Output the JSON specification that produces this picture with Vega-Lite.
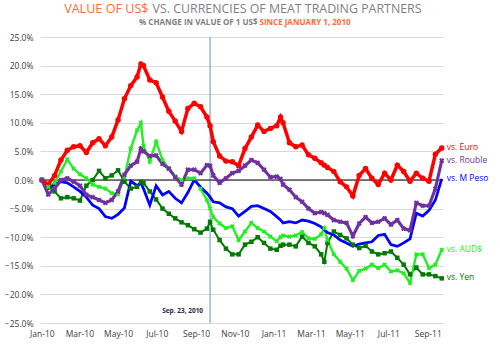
{
  "$schema": "https://vega.github.io/schema/vega-lite/v6.json",
  "width": 403,
  "height": 286,
  "autosize": "none",
  "padding": {"left": 40, "top": 37, "right": 57, "bottom": 30},
  "background": "white",
  "config": {"view": {"stroke": null}, "font": "Open Sans"},
  "datasets": {
    "fx": [
      {"d":"2010-01-01","Euro":0,"Rouble":0,"Peso":0,"AUD":0,"Yen":0},
      {"d":"2010-01-11","Euro":-0.8,"Rouble":-2.5,"Peso":-1.5,"AUD":-1.2,"Yen":-1.2},
      {"d":"2010-01-21","Euro":0.8,"Rouble":-1.5,"Peso":-0.8,"AUD":-0.5,"Yen":-2.0},
      {"d":"2010-01-31","Euro":3.5,"Rouble":0.0,"Peso":-0.3,"AUD":1.5,"Yen":-3.2},
      {"d":"2010-02-10","Euro":5.2,"Rouble":0.3,"Peso":-0.5,"AUD":3.6,"Yen":-3.0},
      {"d":"2010-02-20","Euro":5.8,"Rouble":-0.3,"Peso":-1.2,"AUD":2.0,"Yen":-3.2},
      {"d":"2010-03-02","Euro":6.0,"Rouble":-1.0,"Peso":-2.0,"AUD":1.0,"Yen":-3.6},
      {"d":"2010-03-12","Euro":4.8,"Rouble":-2.6,"Peso":-3.0,"AUD":0.3,"Yen":-1.0},
      {"d":"2010-03-22","Euro":6.5,"Rouble":-3.0,"Peso":-4.4,"AUD":-0.8,"Yen":0.0},
      {"d":"2010-04-01","Euro":7.2,"Rouble":-3.5,"Peso":-5.0,"AUD":-1.2,"Yen":1.6},
      {"d":"2010-04-11","Euro":6.0,"Rouble":-4.0,"Peso":-6.4,"AUD":-1.5,"Yen":0.3},
      {"d":"2010-04-21","Euro":7.5,"Rouble":-3.5,"Peso":-6.7,"AUD":-2.3,"Yen":0.8},
      {"d":"2010-05-01","Euro":10.5,"Rouble":-2.0,"Peso":-6.0,"AUD":-2.5,"Yen":1.7},
      {"d":"2010-05-11","Euro":14.2,"Rouble":0.9,"Peso":-4.9,"AUD":0.5,"Yen":-0.3},
      {"d":"2010-05-21","Euro":16.5,"Rouble":2.5,"Peso":-0.2,"AUD":5.5,"Yen":-1.5},
      {"d":"2010-05-31","Euro":18.0,"Rouble":3.2,"Peso":-1.0,"AUD":8.7,"Yen":-1.2},
      {"d":"2010-06-06","Euro":20.3,"Rouble":5.5,"Peso":-0.5,"AUD":10.0,"Yen":-0.3},
      {"d":"2010-06-10","Euro":20.0,"Rouble":5.0,"Peso":-1.5,"AUD":6.0,"Yen":-0.5},
      {"d":"2010-06-20","Euro":17.5,"Rouble":4.2,"Peso":-4.4,"AUD":3.2,"Yen":-2.0},
      {"d":"2010-06-30","Euro":17.0,"Rouble":4.3,"Peso":-1.0,"AUD":6.7,"Yen":-3.4},
      {"d":"2010-07-10","Euro":14.5,"Rouble":2.8,"Peso":-2.6,"AUD":3.5,"Yen":-5.0},
      {"d":"2010-07-20","Euro":12.0,"Rouble":2.0,"Peso":-2.0,"AUD":2.0,"Yen":-5.9},
      {"d":"2010-07-30","Euro":10.3,"Rouble":0.5,"Peso":-3.2,"AUD":0.6,"Yen":-6.7},
      {"d":"2010-08-09","Euro":8.5,"Rouble":-0.8,"Peso":-4.0,"AUD":0.0,"Yen":-7.4},
      {"d":"2010-08-19","Euro":12.5,"Rouble":1.8,"Peso":-2.2,"AUD":0.3,"Yen":-7.9},
      {"d":"2010-08-29","Euro":13.4,"Rouble":1.8,"Peso":0.0,"AUD":0.3,"Yen":-8.6},
      {"d":"2010-09-08","Euro":12.8,"Rouble":1.2,"Peso":-1.2,"AUD":-1.5,"Yen":-9.2},
      {"d":"2010-09-18","Euro":11.0,"Rouble":2.6,"Peso":-2.3,"AUD":-3.5,"Yen":-8.5},
      {"d":"2010-09-23","Euro":9.5,"Rouble":2.5,"Peso":-3.0,"AUD":-5.0,"Yen":-7.3},
      {"d":"2010-09-28","Euro":6.7,"Rouble":0.8,"Peso":-3.8,"AUD":-6.5,"Yen":-8.7},
      {"d":"2010-10-08","Euro":4.2,"Rouble":-0.5,"Peso":-4.0,"AUD":-7.6,"Yen":-10.5},
      {"d":"2010-10-18","Euro":3.3,"Rouble":0.3,"Peso":-4.7,"AUD":-8.4,"Yen":-12.0},
      {"d":"2010-10-28","Euro":3.2,"Rouble":1.2,"Peso":-5.0,"AUD":-8.1,"Yen":-13.0},
      {"d":"2010-11-07","Euro":2.5,"Rouble":1.6,"Peso":-6.3,"AUD":-10.5,"Yen":-13.0},
      {"d":"2010-11-17","Euro":5.5,"Rouble":2.5,"Peso":-5.5,"AUD":-9.0,"Yen":-11.3},
      {"d":"2010-11-27","Euro":7.5,"Rouble":3.5,"Peso":-4.6,"AUD":-7.5,"Yen":-10.8},
      {"d":"2010-12-07","Euro":9.6,"Rouble":3.0,"Peso":-4.5,"AUD":-8.4,"Yen":-10.0},
      {"d":"2010-12-17","Euro":8.5,"Rouble":1.8,"Peso":-5.0,"AUD":-9.0,"Yen":-11.0},
      {"d":"2010-12-27","Euro":9.0,"Rouble":0.5,"Peso":-5.5,"AUD":-9.9,"Yen":-12.0},
      {"d":"2011-01-06","Euro":9.5,"Rouble":0.6,"Peso":-6.4,"AUD":-10.7,"Yen":-12.2},
      {"d":"2011-01-12","Euro":11.0,"Rouble":0.2,"Peso":-7.0,"AUD":-10.0,"Yen":-11.5},
      {"d":"2011-01-16","Euro":10.0,"Rouble":-0.8,"Peso":-7.5,"AUD":-9.7,"Yen":-11.3},
      {"d":"2011-01-26","Euro":6.5,"Rouble":-1.7,"Peso":-7.3,"AUD":-9.9,"Yen":-11.3},
      {"d":"2011-02-05","Euro":5.8,"Rouble":-3.0,"Peso":-7.5,"AUD":-9.7,"Yen":-11.6},
      {"d":"2011-02-15","Euro":6.1,"Rouble":-3.8,"Peso":-7.0,"AUD":-9.1,"Yen":-9.9},
      {"d":"2011-02-25","Euro":4.4,"Rouble":-5.0,"Peso":-7.2,"AUD":-10.2,"Yen":-11.0},
      {"d":"2011-03-07","Euro":3.8,"Rouble":-5.8,"Peso":-7.6,"AUD":-10.3,"Yen":-11.6},
      {"d":"2011-03-17","Euro":3.0,"Rouble":-5.6,"Peso":-8.2,"AUD":-9.5,"Yen":-13.0},
      {"d":"2011-03-22","Euro":2.6,"Rouble":-5.8,"Peso":-8.7,"AUD":-8.4,"Yen":-14.3},
      {"d":"2011-03-27","Euro":2.2,"Rouble":-6.1,"Peso":-9.2,"AUD":-10.5,"Yen":-11.0},
      {"d":"2011-04-06","Euro":1.5,"Rouble":-7.0,"Peso":-9.6,"AUD":-13.0,"Yen":-9.0},
      {"d":"2011-04-16","Euro":-0.3,"Rouble":-7.3,"Peso":-10.5,"AUD":-14.3,"Yen":-9.6},
      {"d":"2011-04-26","Euro":-1.2,"Rouble":-7.5,"Peso":-11.0,"AUD":-15.5,"Yen":-10.2},
      {"d":"2011-05-06","Euro":-2.8,"Rouble":-9.8,"Peso":-11.6,"AUD":-17.5,"Yen":-11.3},
      {"d":"2011-05-16","Euro":0.8,"Rouble":-7.6,"Peso":-11.2,"AUD":-15.9,"Yen":-11.9},
      {"d":"2011-05-26","Euro":2.0,"Rouble":-6.5,"Peso":-11.0,"AUD":-15.5,"Yen":-11.5},
      {"d":"2011-06-05","Euro":0.3,"Rouble":-7.5,"Peso":-10.8,"AUD":-14.8,"Yen":-12.5},
      {"d":"2011-06-15","Euro":-0.8,"Rouble":-7.3,"Peso":-9.7,"AUD":-15.4,"Yen":-13.0},
      {"d":"2011-06-25","Euro":1.2,"Rouble":-6.7,"Peso":-9.5,"AUD":-14.8,"Yen":-12.8},
      {"d":"2011-07-05","Euro":0.0,"Rouble":-7.8,"Peso":-11.3,"AUD":-16.0,"Yen":-12.5},
      {"d":"2011-07-15","Euro":2.6,"Rouble":-7.0,"Peso":-11.6,"AUD":-15.8,"Yen":-13.6},
      {"d":"2011-07-25","Euro":1.5,"Rouble":-8.5,"Peso":-11.0,"AUD":-16.3,"Yen":-14.8},
      {"d":"2011-08-04","Euro":-0.2,"Rouble":-8.8,"Peso":-10.3,"AUD":-18.0,"Yen":-16.5},
      {"d":"2011-08-14","Euro":1.2,"Rouble":-4.0,"Peso":-5.8,"AUD":-13.0,"Yen":-15.3},
      {"d":"2011-08-24","Euro":0.3,"Rouble":-4.5,"Peso":-6.3,"AUD":-13.0,"Yen":-16.5},
      {"d":"2011-09-03","Euro":-0.2,"Rouble":-4.5,"Peso":-5.3,"AUD":-15.4,"Yen":-16.5},
      {"d":"2011-09-13","Euro":4.5,"Rouble":-1.5,"Peso":-3.5,"AUD":-14.8,"Yen":-16.8},
      {"d":"2011-09-23","Euro":5.6,"Rouble":3.4,"Peso":0.2,"AUD":-12.2,"Yen":-17.2}
    ],
    "names": [
      {"s":"Euro","label":"vs. Euro"},
      {"s":"Rouble","label":"vs. Rouble"},
      {"s":"Peso","label":"vs. M Peso"},
      {"s":"AUD","label":"vs. AUD$"},
      {"s":"Yen","label":"vs. Yen"}
    ],
    "ann": [{"d":"2010-09-23","label":"Sep. 23, 2010"}]
  },
  "resolve": {"scale": {"x": "independent", "y": "independent"}, "axis": {"x": "independent", "y": "independent"}},
  "layer": [
    {
      "data": {"name": "ann"},
      "layer": [
        {
          "mark": {"type": "rule", "color": "#7CA3D4", "strokeWidth": 1.2},
          "encoding": {
            "x": {"field": "d", "type": "temporal", "scale": {"domain": ["2009-12-29", "2011-09-25"]},
              "axis": {"orient": "top", "labels": false, "ticks": false, "domain": false, "grid": false,
                "title": "SINCE JANUARY 1, 2010", "titleColor": "#FF6B35", "titleFontSize": 8, "titleFontWeight": "bold",
                "titleFont": "Open Sans", "titleAlign": "left", "titleBaseline": "alphabetic", "titleX": 219, "titleY": -12.5}}
          }
        },
        {
          "mark": {"type": "rule", "color": "black", "strokeWidth": 1},
          "encoding": {
            "y": {"datum": 0, "type": "quantitative", "scale": {"domain": [-25, 25]},
              "axis": {"orient": "right", "labels": false, "ticks": false, "domain": false, "grid": false,
                "title": "VS. CURRENCIES OF MEAT TRADING PARTNERS", "titleColor": "#7F7F7F", "titleFontSize": 12.4,
                "titleFontWeight": "normal", "titleFont": "Open Sans", "titleAngle": 0, "titleAlign": "left",
                "titleBaseline": "alphabetic", "titleX": -291, "titleY": -24.2}}
          }
        },
        {
          "mark": {"type": "text", "align": "right", "baseline": "middle", "dx": -7, "fontSize": 6.5, "fontWeight": "bold", "color": "#1F2A44", "font": "Open Sans"},
          "encoding": {
            "x": {"field": "d", "type": "temporal"},
            "y": {"datum": -22.9, "type": "quantitative"},
            "text": {"field": "label"}
          }
        }
      ]
    },
    {
      "data": {"name": "fx"},
      "transform": [{"fold": ["Yen", "AUD", "Peso", "Rouble", "Euro"], "as": ["s", "v"]}],
      "encoding": {
        "x": {"field": "d", "type": "temporal", "scale": {"domain": ["2009-12-29", "2011-09-25"]},
          "axis": {"orient": "bottom", "format": "%b-%y", "tickCount": {"interval": "month", "step": 2},
            "grid": false, "ticks": false, "domain": false, "labelPadding": 6, "labelFontSize": 8.5,
            "labelColor": "#404040", "labelFont": "Open Sans", "labelOverlap": false, "labelFlush": false,
            "title": "% CHANGE IN VALUE OF 1 US$", "titleFontSize": 8, "titleColor": "#7F7F7F", "titleFontWeight": "bold",
            "titleFont": "Open Sans", "titleX": 217, "titleY": -298.5, "titleAlign": "right", "titleBaseline": "alphabetic"}},
        "y": {"field": "v", "type": "quantitative", "scale": {"domain": [-25, 25]},
          "axis": {"orient": "left", "values": [-25, -20, -15, -10, -5, 0, 5, 10, 15, 20, 25],
            "labelExpr": "format(datum.value, '.1f') + '%'", "grid": true, "gridColor": "#D9D9D9", "gridWidth": 1,
            "ticks": false, "domain": false, "labelPadding": 7, "labelFontSize": 8.5, "labelColor": "#404040",
            "labelFont": "Open Sans", "title": "VALUE OF US$", "titleColor": "#FF6B35", "titleFontSize": 12.6,
            "titleFontWeight": "normal", "titleFont": "Open Sans", "titleAngle": 0, "titleAlign": "right",
            "titleBaseline": "alphabetic", "titleX": 108, "titleY": -24.2}},
        "color": {"field": "s", "type": "nominal", "legend": null,
          "scale": {"domain": ["Euro", "Rouble", "Peso", "AUD", "Yen"], "range": ["#FF0000", "#7030A0", "#0000FF", "#22EE22", "#007A00"]}}
      },
      "layer": [
        {
          "mark": {"type": "line"},
          "encoding": {
            "strokeWidth": {"field": "s", "type": "nominal", "legend": null,
              "scale": {"domain": ["Euro", "Rouble", "Peso", "AUD", "Yen"], "range": [3.5, 2, 2.5, 1.8, 4.5]}}
          }
        },
        {
          "transform": [{"filter": {"field": "s", "oneOf": ["Euro", "Yen"]}}],
          "mark": {"type": "point", "filled": true, "opacity": 1},
          "encoding": {
            "shape": {"field": "s", "type": "nominal", "legend": null, "scale": {"domain": ["Euro", "Yen"], "range": ["circle", "square"]}},
            "size": {"field": "s", "type": "nominal", "legend": null,
              "scale": {"domain": ["Euro", "Rouble", "Peso", "AUD", "Yen"], "range": [30, 20, 0, 32, 36]}}
          }
        },
        {
          "transform": [{"filter": {"field": "s", "oneOf": ["AUD", "Rouble"]}}],
          "mark": {"type": "point", "shape": "cross", "angle": 45, "filled": true, "opacity": 1},
          "encoding": {
            "size": {"field": "s", "type": "nominal", "legend": null}
          }
        },
        {
          "transform": [
            {"filter": "time(toDate(datum.d)) == utc(2011, 8, 23)"},
            {"lookup": "s", "from": {"data": {"name": "names"}, "key": "s", "fields": ["label"]}}
          ],
          "mark": {"type": "text", "align": "left", "baseline": "middle", "dx": 5, "dy": -1, "fontSize": 8.5, "font": "Open Sans"},
          "encoding": {"text": {"field": "label"}}
        }
      ]
    }
  ]
}
